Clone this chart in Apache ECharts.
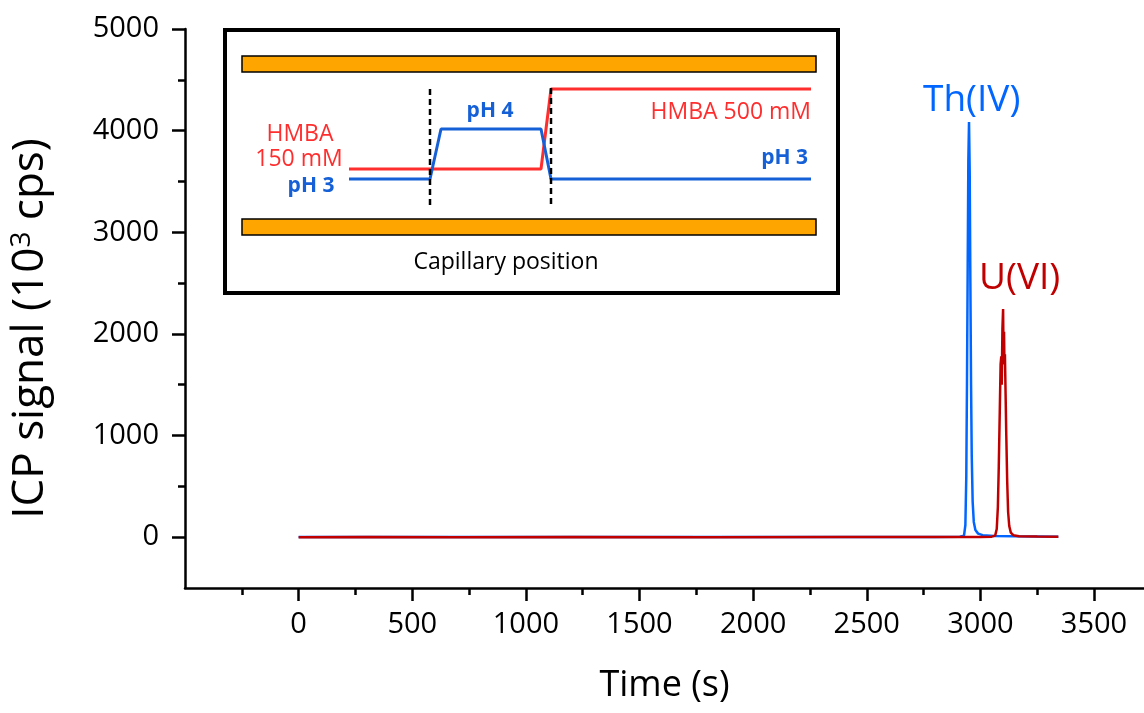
<!DOCTYPE html>
<html>
<head>
<meta charset="utf-8">
<script src="https://cdn.jsdelivr.net/npm/echarts@6/dist/echarts.min.js"></script>
<style>
html,body{margin:0;padding:0;background:#fff;}
#chart{width:1144px;height:713px;}
</style>
</head>
<body>
<div id="chart"></div>
<script>
// ---- Main chromatogram data (time in s, signal in 10^3 cps) ----
const thTime   = [0, 300, 700, 1200, 1800, 2400, 2800, 2910, 2928, 2934, 2938, 2941, 2944, 2947, 2950, 2953, 2956, 2959, 2962, 2966, 2971, 2978, 2990, 3010, 3060, 3150, 3343];
const thSignal = [2, 3, 2, 3, 2, 3, 3, 4, 15, 120, 600, 1500, 2600, 3700, 4085, 3600, 2500, 1500, 800, 350, 150, 70, 35, 20, 12, 8, 5];

const uTime   = [0, 300, 700, 1200, 1800, 2400, 2900, 3000, 3050, 3065, 3072, 3077, 3081, 3085, 3089, 3092, 3094, 3097, 3100, 3102, 3104, 3106, 3108, 3111, 3114, 3118, 3122, 3127, 3134, 3145, 3170, 3250, 3343];
const uSignal = [0, 1, 0, 1, 0, 1, 2, 3, 5, 15, 80, 300, 700, 1200, 1700, 1780, 1500, 2050, 2245, 1750, 2020, 1700, 1800, 1400, 1000, 550, 250, 110, 45, 20, 10, 6, 4];

const xMajorTicks = [0, 500, 1000, 1500, 2000, 2500, 3000, 3500];
const xMinorTicks = [-250, 250, 750, 1250, 1750, 2250, 2750, 3250];
const yMajorTicks = [0, 1000, 2000, 3000, 4000, 5000];
const yMinorTicks = [500, 1500, 2500, 3500, 4500];

// ---- Inset schematic data (arbitrary capillary units) ----
const hmbaX = [124, 316, 326, 586];
const hmbaY = [139, 139, 59, 59];
const phX   = [124, 205, 216, 316, 326, 586];
const phY   = [149, 149, 99, 99, 149, 149];
const boundary1 = [[205, 59], [205, 178]];
const boundary2 = [[326, 58], [326, 178]];
const capillaryWalls = [[17, 591, 26, 42], [17, 591, 189, 205]];

const zip = (a, b) => a.map((v, i) => [v, b[i]]);
const FONT = 'Open Sans';
const plain = v => String(v);

const chart = echarts.init(document.getElementById('chart'), null, {renderer: 'canvas'});

const axisLineStyle = {color: '#000', width: 2.5};

const option = {
  animation: false,
  backgroundColor: '#fff',
  grid: [
    {left: 184, top: 29, right: 0, bottom: 125},
    {left: 225, top: 30, width: 613, height: 263, show: true, backgroundColor: '#fff', borderColor: '#000', borderWidth: 4, z: 5}
  ],
  xAxis: [
    {
      type: 'value', gridIndex: 0, min: -500, max: 3720,
      axisLine: {show: true, onZero: false, lineStyle: axisLineStyle},
      axisTick: {show: true, customValues: xMajorTicks, length: 13, lineStyle: axisLineStyle},
      axisLabel: {customValues: xMajorTicks, formatter: plain, fontSize: 29, fontFamily: FONT, color: '#000', margin: 22},
      splitLine: {show: false},
      name: 'Time (s)', nameLocation: 'middle', nameGap: 80,
      nameTextStyle: {fontSize: 36, fontFamily: FONT, color: '#000'}
    },
    {
      type: 'value', gridIndex: 0, min: -500, max: 3720, position: 'bottom',
      axisLine: {show: false, onZero: false},
      axisTick: {show: true, customValues: xMinorTicks, length: 7, lineStyle: axisLineStyle},
      axisLabel: {show: false},
      splitLine: {show: false}
    },
    {type: 'value', gridIndex: 1, min: 0, max: 613, show: false}
  ],
  yAxis: [
    {
      type: 'value', gridIndex: 0, min: -500, max: 5000,
      axisLine: {show: true, onZero: false, lineStyle: axisLineStyle},
      axisTick: {show: true, customValues: yMajorTicks, length: 13, lineStyle: axisLineStyle},
      axisLabel: {customValues: yMajorTicks, formatter: plain, fontSize: 29, fontFamily: FONT, color: '#000', margin: 26},
      splitLine: {show: false},
      name: '{a|ICP signal (10}{s|3}{a| cps)}', nameLocation: 'middle', nameGap: 132, nameRotate: 90,
      nameTextStyle: {
        fontSize: 44, fontFamily: FONT, color: '#000', padding: [0, 40, 0, 0],
        rich: {
          a: {fontSize: 44, fontFamily: FONT, color: '#000'},
          s: {fontSize: 28, fontFamily: FONT, color: '#000', verticalAlign: 'top', padding: [0, 0, 17, 0]}
        }
      }
    },
    {
      type: 'value', gridIndex: 0, min: -500, max: 5000, position: 'left',
      axisLine: {show: false, onZero: false},
      axisTick: {show: true, customValues: yMinorTicks, length: 7, lineStyle: axisLineStyle},
      axisLabel: {show: false},
      splitLine: {show: false}
    },
    {type: 'value', gridIndex: 1, min: 0, max: 263, inverse: true, show: false}
  ],
  series: [
    {
      name: 'Th(IV)', type: 'line', xAxisIndex: 0, yAxisIndex: 0,
      data: zip(thTime, thSignal), showSymbol: false, symbol: 'none',
      lineStyle: {color: '#0066FF', width: 2.5}, z: 2
    },
    {
      name: 'U(VI)', type: 'line', xAxisIndex: 0, yAxisIndex: 0,
      data: zip(uTime, uSignal), showSymbol: false, symbol: 'none',
      lineStyle: {color: '#C00000', width: 2.5}, z: 3
    },
    {
      type: 'custom', xAxisIndex: 2, yAxisIndex: 2, z: 10,
      data: capillaryWalls,
      renderItem: function (params, api) {
        const p0 = api.coord([api.value(0), api.value(2)]);
        const p1 = api.coord([api.value(1), api.value(3)]);
        return {
          type: 'rect',
          shape: {x: p0[0], y: p0[1], width: p1[0] - p0[0], height: p1[1] - p0[1]},
          style: {fill: '#FFA500', stroke: '#000', lineWidth: 1.5}
        };
      }
    },
    {
      type: 'line', xAxisIndex: 2, yAxisIndex: 2, z: 11,
      data: zip(hmbaX, hmbaY), showSymbol: false, symbol: 'none',
      lineStyle: {color: '#FF2E2E', width: 3}
    },
    {
      type: 'line', xAxisIndex: 2, yAxisIndex: 2, z: 11,
      data: zip(phX, phY), showSymbol: false, symbol: 'none',
      lineStyle: {color: '#1560D6', width: 3}
    },
    {
      type: 'line', xAxisIndex: 2, yAxisIndex: 2, z: 12,
      data: boundary1, showSymbol: false, symbol: 'none',
      lineStyle: {color: '#000', width: 2.5, type: [6, 4]}
    },
    {
      type: 'line', xAxisIndex: 2, yAxisIndex: 2, z: 12,
      data: boundary2, showSymbol: false, symbol: 'none',
      lineStyle: {color: '#000', width: 2.5, type: [6, 4]}
    }
  ],
  graphic: [
    {type: 'text', x: 923, y: 100, z: 20, style: {text: 'Th(IV)', fontSize: 37, fontFamily: FONT, fill: '#0066FF', textAlign: 'left', textVerticalAlign: 'middle'}},
    {type: 'text', x: 979, y: 278, z: 20, style: {text: 'U(VI)', fontSize: 37, fontFamily: FONT, fill: '#C00000', textAlign: 'left', textVerticalAlign: 'middle'}},
    {type: 'text', x: 300, y: 134, z: 20, style: {text: 'HMBA', fontSize: 23, fontFamily: FONT, fill: '#FF2E2E', textAlign: 'center', textVerticalAlign: 'middle'}},
    {type: 'text', x: 299, y: 159, z: 20, style: {text: '150 mM', fontSize: 23, fontFamily: FONT, fill: '#FF2E2E', textAlign: 'center', textVerticalAlign: 'middle'}},
    {type: 'text', x: 311, y: 186, z: 20, style: {text: 'pH 3', fontSize: 21, fontWeight: 'bold', fontFamily: FONT, fill: '#1560D6', textAlign: 'center', textVerticalAlign: 'middle'}},
    {type: 'text', x: 490, y: 111, z: 20, style: {text: 'pH 4', fontSize: 21, fontWeight: 'bold', fontFamily: FONT, fill: '#1560D6', textAlign: 'center', textVerticalAlign: 'middle'}},
    {type: 'text', x: 811, y: 112, z: 20, style: {text: 'HMBA 500 mM', fontSize: 23, fontFamily: FONT, fill: '#FF2E2E', textAlign: 'right', textVerticalAlign: 'middle'}},
    {type: 'text', x: 808, y: 158, z: 20, style: {text: 'pH 3', fontSize: 21, fontWeight: 'bold', fontFamily: FONT, fill: '#1560D6', textAlign: 'right', textVerticalAlign: 'middle'}},
    {type: 'text', x: 506, y: 262, z: 20, style: {text: 'Capillary position', fontSize: 23, fontFamily: FONT, fill: '#000', textAlign: 'center', textVerticalAlign: 'middle'}}
  ]
};

chart.setOption(option);
</script>
</body>
</html>
